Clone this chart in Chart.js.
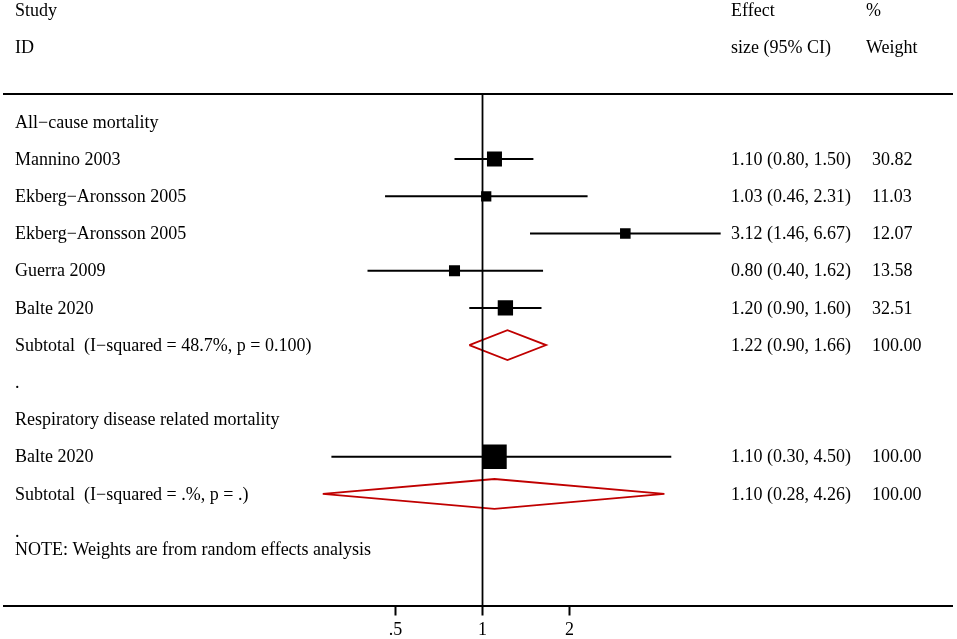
<!DOCTYPE html>
<html>
<head>
<meta charset="utf-8">
<script src="https://cdn.jsdelivr.net/npm/chart.js@4.4.1/dist/chart.umd.min.js"></script>
<style>
  html, body { margin: 0; padding: 0; background: #fff; }
  #wrap { width: 957px; height: 639px; position: relative; }
</style>
</head>
<body>
<div id="wrap"><canvas id="forest"></canvas></div>
<script>
// ---- data ----
const studyLabels = ["Mannino 2003", "Ekberg\u2212Aronsson 2005", "Ekberg\u2212Aronsson 2005", "Guerra 2009", "Balte 2020", "Balte 2020"];
const studyRows = [1, 2, 3, 4, 5, 9];
const studyEs = [1.10, 1.03, 3.12, 0.80, 1.20, 1.10];
const studyLo = [0.80, 0.46, 1.46, 0.40, 0.90, 0.30];
const studyHi = [1.50, 2.31, 6.67, 1.62, 1.60, 4.50];
const studyWeights = [30.82, 11.03, 12.07, 13.58, 32.51, 100.00];

const subLabels = ["Subtotal  (I\u2212squared = 48.7%, p = 0.100)", "Subtotal  (I\u2212squared = .%, p = .)"];
const subRows = [6, 10];
const subEs = [1.22, 1.10];
const subLo = [0.90, 0.28];
const subHi = [1.66, 4.26];
const subWeights = [100.00, 100.00];

const groupLabels = ["All\u2212cause mortality", "Respiratory disease related mortality"];
const groupRows = [0, 8];
const dotRows = [7, 11];
const noteText = "NOTE: Weights are from random effects analysis";
const noteRow = 11.5;

const tickValues = [0.5, 1, 2];
const tickLabels = [".5", "1", "2"];
// -----------------------------------

const FONT = "18px 'Liberation Serif', 'Times New Roman', serif";
const RED = '#c00000';
const diamondHalf = 0.4;
const boxRadius = w => (1.067 * Math.sqrt(w) + 1.58) * Math.SQRT2;
const fmt = v => v.toFixed(2);

const datasets = [];

// line of no effect
datasets.push({
  data: [{ x: 1, y: -0.75 }, { x: 1, y: 13 }],
  showLine: true, borderColor: '#000', borderWidth: 1.8, pointRadius: 0
});

// confidence intervals
studyRows.forEach((r, i) => {
  datasets.push({
    data: [{ x: studyLo[i], y: r }, { x: studyHi[i], y: r }],
    showLine: true, borderColor: '#000', borderWidth: 2, pointRadius: 0
  });
});

// weight boxes
datasets.push({
  data: studyRows.map((r, i) => ({ x: studyEs[i], y: r })),
  showLine: false, pointStyle: 'rect',
  pointRadius: studyWeights.map(boxRadius),
  backgroundColor: '#000', borderColor: '#000', borderWidth: 0
});

// pooled diamonds
subRows.forEach((r, i) => {
  datasets.push({
    data: [
      { x: subLo[i], y: r }, { x: subEs[i], y: r - diamondHalf },
      { x: subHi[i], y: r }, { x: subEs[i], y: r + diamondHalf },
      { x: subLo[i], y: r }
    ],
    showLine: true, borderColor: RED, borderWidth: 1.8, pointRadius: 0,
    tension: 0, fill: false
  });
});

// text columns
const textPlugin = {
  id: 'forestText',
  afterDatasetsDraw(chart) {
    const { ctx } = chart;
    const y = chart.scales.y;
    ctx.save();
    ctx.font = FONT;
    ctx.fillStyle = '#000';
    ctx.textAlign = 'left';
    ctx.textBaseline = 'middle';
    const put = (t, x, row) => ctx.fillText(t, x, y.getPixelForValue(row) + 1);

    put("Study", 15, -3); put("ID", 15, -2);
    put("Effect", 731, -3); put("size (95% CI)", 731, -2);
    put("%", 866, -3); put("Weight", 866, -2);

    groupRows.forEach((r, i) => put(groupLabels[i], 15, r));
    studyRows.forEach((r, i) => {
      put(studyLabels[i], 15, r);
      put(`${fmt(studyEs[i])} (${fmt(studyLo[i])}, ${fmt(studyHi[i])})`, 731, r);
      put(fmt(studyWeights[i]), 872, r);
    });
    subRows.forEach((r, i) => {
      put(subLabels[i], 15, r);
      put(`${fmt(subEs[i])} (${fmt(subLo[i])}, ${fmt(subHi[i])})`, 731, r);
      put(fmt(subWeights[i]), 872, r);
    });
    dotRows.forEach(r => put(".", 15, r));
    put(noteText, 15, noteRow);
    ctx.restore();
  }
};

new Chart(document.getElementById('forest'), {
  type: 'scatter',
  data: { datasets },
  plugins: [textPlugin],
  options: {
    responsive: true,
    maintainAspectRatio: false,
    animation: false,
    layout: { autoPadding: false, padding: { top: 94, left: 4, right: 5, bottom: 0 } },
    plugins: { legend: { display: false }, tooltip: { enabled: false } },
    scales: {
      x: {
        type: 'logarithmic', position: 'bottom',
        min: 0.02209, max: 42.13,
        afterBuildTicks: s => { s.ticks = tickValues.map(v => ({ value: v })); },
        afterFit: s => { s.height = 33.5; },
        ticks: {
          color: '#000', font: { family: "'Liberation Serif'", size: 18 },
          padding: 4, maxRotation: 0, autoSkip: false,
          callback: (v, i) => tickLabels[i]
        },
        grid: { drawOnChartArea: false, drawTicks: true, tickLength: 10, tickWidth: 2, color: '#000' },
        border: { display: true, color: '#000', width: 2 }
      },
      xTop: {
        type: 'linear', position: 'top', min: 0, max: 1,
        afterFit: s => { s.height = 0; },
        ticks: { display: false },
        grid: { display: false, drawTicks: false },
        border: { display: true, color: '#000', width: 2 }
      },
      y: {
        type: 'linear', reverse: true, min: -0.75, max: 13,
        display: false
      }
    }
  }
});
</script>
</body>
</html>
